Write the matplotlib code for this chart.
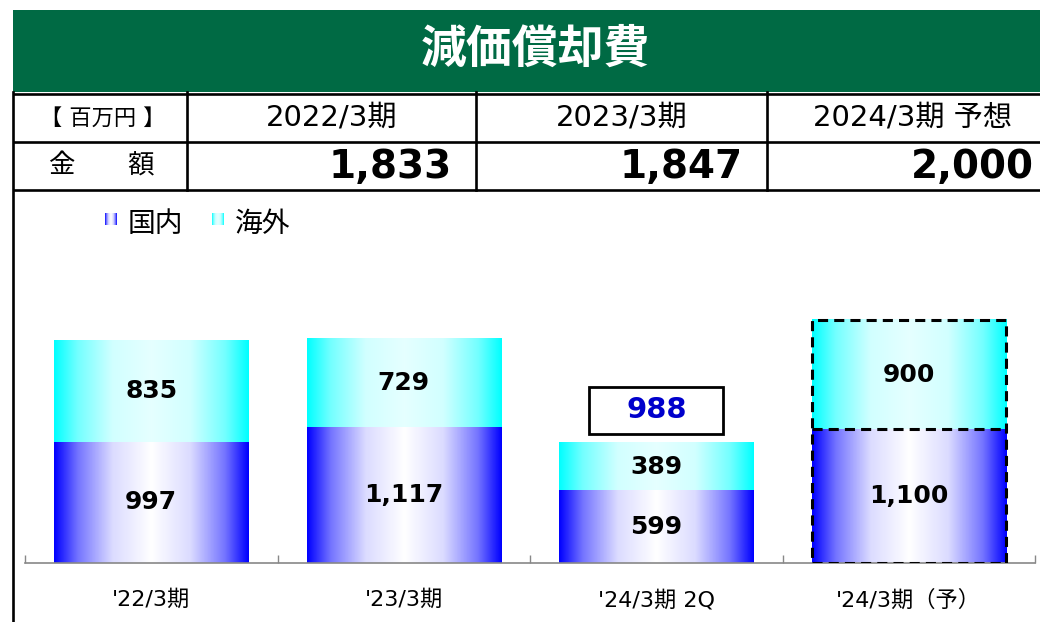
import matplotlib
matplotlib.use('Agg')
import matplotlib.pyplot as plt
from matplotlib.patches import Rectangle
import numpy as np

plt.rcParams['font.family'] = ['DejaVu Sans', 'Noto Sans CJK JP']

# chart data
categories = ["'22/3期", "'23/3期", "'24/3期 2Q", "'24/3期（予）"]
domestic = [997, 1117, 599, 1100]
overseas = [835, 729, 389, 900]
series_names = ['国内', '海外']
highlight_idx = 2          # 2Q total shown in a box
forecast_idx = 3           # dashed outline

# table data
title = '減価償却費'
unit_label = '【 百万円 】'
row_label = '金　　額'
table_periods = ['2022/3期', '2023/3期', '2024/3期 予想']
table_amounts = [1833, 1847, 2000]

W, H = 1040, 622
GREEN = '#006a44'


def gradient(edge, mid, center, n=256):
    # symmetric horizontal gradient: edge -> center -> edge
    pos = [0.0, 0.12, 0.3, 0.5]
    cols = np.array([edge, mid[0], mid[1], center])
    t = 0.5 - np.abs(np.linspace(0, 1, n) - 0.5)
    img = np.stack([np.interp(t, pos, cols[:, c]) for c in range(3)], axis=-1)
    return img[np.newaxis, :, :]


blue_grad = gradient((0, 0, 1), [(0.45, 0.45, 1), (0.86, 0.86, 1)], (1, 1, 1))
cyan_grad = gradient((0, 1, 1), [(0.45, 1, 1), (0.82, 1, 1)], (0.9, 1, 1))

fig = plt.figure(figsize=(W / 100, H / 100), dpi=100)

# ---- header + table, drawn in pixel coordinates
ax0 = fig.add_axes([0, 0, 1, 1])
ax0.set_xlim(0, W)
ax0.set_ylim(H, 0)
ax0.axis('off')

left, right = 13, 1058
ax0.add_patch(Rectangle((left, 10), right - left, 82, color=GREEN, lw=0))
ax0.text((left + right) / 2, 50, title, color='white', fontsize=33,
         fontweight='bold', family=['Noto Sans CJK JP'], ha='center', va='center')

col_edges = [13, 187, 476, 767, 1058]
for y in (93.5, 142, 190):
    ax0.plot([left, right], [y, y], color='black', lw=1.9, solid_capstyle='butt')
ax0.plot([left, left], [92, H], color='black', lw=1.9)
for xe in col_edges[1:-1]:
    ax0.plot([xe, xe], [92, 190], color='black', lw=1.9)

ax0.text((col_edges[0] + col_edges[1]) / 2 + 3, 118, unit_label, fontsize=16,
         ha='center', va='center')
ax0.text((col_edges[0] + col_edges[1]) / 2 + 2, 166, row_label, fontsize=19,
         ha='center', va='center')
for i, (p, a) in enumerate(zip(table_periods, table_amounts)):
    cx = (col_edges[i + 1] + col_edges[i + 2]) / 2
    ax0.text(cx, 118, p, fontsize=21, ha='center', va='center')
    ax0.text(col_edges[i + 2] - 24, 167, f'{a:,}', fontsize=28,
             fontweight='bold', ha='right', va='center')

# legend swatches
for gx, tx, grad, name in ((105, 128, blue_grad, series_names[0]),
                           (212, 235, cyan_grad, series_names[1])):
    ax0.imshow(grad, extent=[gx, gx + 12, 225, 213], aspect='auto', zorder=2)
    ax0.text(tx, 224, name, fontsize=20, ha='left', va='center')
ax0.set_xlim(0, W)
ax0.set_ylim(H, 0)

# ---- stacked bar chart
ax = fig.add_axes([25 / W, (H - 563) / H, 1010 / W, (563 - 198.5) / H])
ax.patch.set_alpha(0)
x = np.arange(len(categories))
b1 = ax.bar(x, domestic, width=0.77, color='none', linewidth=0)
b2 = ax.bar(x, overseas, bottom=domestic, width=0.77, color='none', linewidth=0)

for bars, grad in ((b1, blue_grad), (b2, cyan_grad)):
    for p in bars:
        ax.imshow(grad, extent=[p.get_x(), p.get_x() + p.get_width(),
                                p.get_y(), p.get_y() + p.get_height()],
                  aspect='auto', zorder=0.5, interpolation='bilinear')

# dashed outline for the forecast bar (outer box + split line)
fb, ft = b1[forecast_idx], b2[forecast_idx]
dash = dict(color='black', lw=2.2, linestyle=(0, (3.3, 2)), zorder=3)
ax.add_patch(Rectangle((fb.get_x(), 0), fb.get_width(),
                       ft.get_y() + ft.get_height(), fill=False, **dash))
ax.plot([fb.get_x(), fb.get_x() + fb.get_width()],
        [fb.get_height(), fb.get_height()], **dash)

ax.bar_label(b1, labels=[f'{v:,}' for v in domestic], label_type='center',
             fontsize=18, fontweight='bold')
ax.bar_label(b2, labels=[f'{v:,}' for v in overseas], label_type='center',
             fontsize=18, fontweight='bold')

# boxed total for 2Q
hp = b1[highlight_idx]
total = domestic[highlight_idx] + overseas[highlight_idx]
bw = 0.53
cx = hp.get_x() + hp.get_width() / 2
ax.add_patch(Rectangle((cx - bw / 2, total + 75), bw, 385, facecolor='white',
                       edgecolor='black', lw=2, zorder=4))
ax.text(cx, total + 75 + 385 / 2, f'{total:,}', color='#0000cc', fontsize=21,
        fontweight='bold', ha='center', va='center', zorder=5)

ax.set_xlim(-0.5, len(categories) - 0.5)
ax.set_ylim(0, 3000)
ax.set_xticks(x, categories)
ax.set_xticks(np.arange(-0.5, len(categories), 1), minor=True)
ax.tick_params(axis='x', which='major', length=0, pad=19, labelsize=16)
ax.tick_params(axis='x', which='minor', direction='in', length=6,
               color='#888888', width=1)
ax.set_yticks([])
for s in ('left', 'top', 'right'):
    ax.spines[s].set_visible(False)
ax.spines['bottom'].set_color('#888888')
ax.spines['bottom'].set_linewidth(1.2)

fig.savefig('out.png', dpi=100)
